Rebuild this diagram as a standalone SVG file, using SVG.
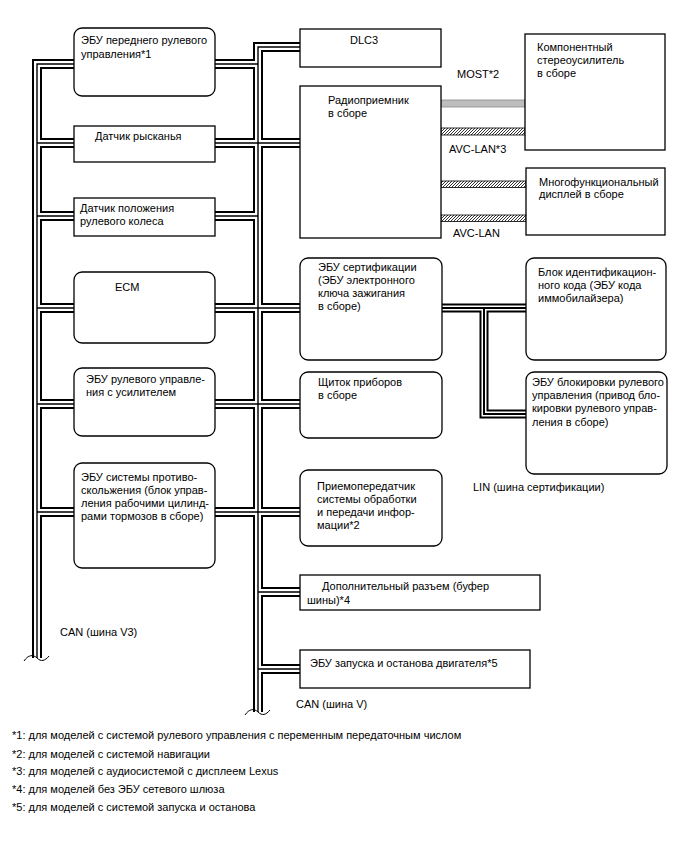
<svg xmlns="http://www.w3.org/2000/svg" width="688" height="852" viewBox="0 0 688 852">
<style>
text{font-family:"Liberation Sans",Arial,sans-serif;font-size:11px;fill:#000}
.fn{font-size:11px}
.box{fill:#fff;stroke:#000;stroke-width:1.3}
.bo{fill:none;stroke:#000;stroke-width:10;stroke-linejoin:miter}
.bw{fill:none;stroke:#fff;stroke-width:6;stroke-linejoin:miter}
.bc{fill:none;stroke:#000;stroke-width:1.4;stroke-linejoin:miter}
.lo{fill:none;stroke:#000;stroke-width:9}
.lw{fill:none;stroke:#fff;stroke-width:5}
.lc{fill:none;stroke:#000;stroke-width:2}
.wave{fill:none;stroke:#000;stroke-width:1}
</style>
<defs>
<path id="can" d="M37,658 V64 H74 M37,143 H74 M37,216 H74 M37,308 H74 M37,404 H74 M37,512 H74 M215,64 H258 V47 H300 M258,47 V712 M215,143 H300 M215,216 H258 M215,308 H300 M215,404 H300 M215,512 H300 M258,592 H300 M258,669 H300"/>
<path id="lin" d="M442,308 H526 M484,308 V414 H526"/>
<pattern id="hatch" patternUnits="userSpaceOnUse" width="3" height="3">
<path d="M-1,1 L1,-1 M0,3 L3,0 M2,4 L4,2" stroke="#000" stroke-width="0.8"/>
</pattern>
</defs>
<rect x="0" y="0" width="688" height="852" fill="#fff"/>

<g id="connectors">
<use href="#can" class="bo"/>
<use href="#can" class="bw"/>
<use href="#can" class="bc"/>
<use href="#lin" class="lo"/>
<use href="#lin" class="lw"/>
<use href="#lin" class="lc"/>
<path class="wave" d="M24,661 C28,655 33,654 37,658 C41,662 45,661 49,656"/>
<path class="wave" d="M245,715 C249,709 254,708 258,712 C262,716 266,715 270,710"/>
<rect x="441" y="100" width="84" height="7" fill="#bdbdbd" stroke="#8a8a8a" stroke-width="0.8"/>
<rect x="441" y="128" width="84" height="7" fill="url(#hatch)" stroke="#000" stroke-width="0.8"/>
<rect x="441" y="181" width="85" height="6.5" fill="url(#hatch)" stroke="#000" stroke-width="0.8"/>
<rect x="441" y="215" width="85" height="6.5" fill="url(#hatch)" stroke="#000" stroke-width="0.8"/>
<text x="457" y="78">MOST*2</text>
<text x="449" y="153">AVC-LAN*3</text>
<text x="453" y="237">AVC-LAN</text>
<text x="473" y="491">LIN (шина сертификации)</text>
<text x="60" y="636">CAN (шина V3)</text>
<text x="296" y="708">CAN (шина V)</text>
</g>

<g id="n-ecu-front-steer"><rect class="box" x="74" y="28" width="141" height="68" rx="8"/><text x="81" y="44">ЭБУ переднего рулевого</text><text x="81" y="58">управления*1</text></g>
<g id="n-yaw"><rect class="box" x="74" y="126" width="141" height="36"/><text x="95" y="140">Датчик рысканья</text></g>
<g id="n-steer-angle"><rect class="box" x="74" y="198" width="141" height="38"/><text x="80" y="212">Датчик положения</text><text x="80" y="225">рулевого колеса</text></g>
<g id="n-ecm"><rect class="box" x="74" y="272" width="141" height="71" rx="8"/><text x="115" y="291">ECM</text></g>
<g id="n-eps"><rect class="box" x="74" y="368" width="141" height="68" rx="8"/><text x="86" y="383">ЭБУ рулевого управле-</text><text x="86" y="396">ния с усилителем</text></g>
<g id="n-skid"><rect class="box" x="74" y="463" width="141" height="105" rx="8"/><text x="81" y="481">ЭБУ системы противо-</text><text x="81" y="494">скольжения (блок управ-</text><text x="81" y="507">ления рабочими цилинд-</text><text x="81" y="520">рами тормозов в сборе)</text></g>

<g id="n-dlc3"><rect class="box" x="300" y="29" width="141" height="38"/><text x="350" y="44">DLC3</text></g>
<g id="n-radio"><rect class="box" x="300" y="86" width="141" height="152"/><text x="328" y="104">Радиоприемник</text><text x="328" y="117">в сборе</text></g>
<g id="n-cert"><rect class="box" x="300" y="258" width="142" height="102" rx="8"/><text x="318" y="271">ЭБУ сертификации</text><text x="318" y="284">(ЭБУ электронного</text><text x="318" y="297">ключа зажигания</text><text x="318" y="310">в сборе)</text></g>
<g id="n-meter"><rect class="box" x="300" y="372" width="142" height="66" rx="8"/><text x="318" y="386">Щиток приборов</text><text x="318" y="399">в сборе</text></g>
<g id="n-transceiver"><rect class="box" x="300" y="470" width="142" height="76" rx="8"/><text x="317" y="490">Приемопередатчик</text><text x="317" y="503">системы обработки</text><text x="317" y="516">и передачи инфор-</text><text x="317" y="529">мации*2</text></g>
<g id="n-junction"><rect class="box" x="300" y="575" width="240" height="35"/><text x="322" y="590">Дополнительный разъем (буфер</text><text x="307" y="604">шины)*4</text></g>
<g id="n-stopstart"><rect class="box" x="300" y="650" width="230" height="38"/><text x="310" y="667">ЭБУ запуска и останова двигателя*5</text></g>

<g id="n-amp"><rect class="box" x="525" y="34" width="140" height="116"/><text x="537" y="51">Компонентный</text><text x="537" y="64">стереоусилитель</text><text x="537" y="77">в сборе</text></g>
<g id="n-display"><rect class="box" x="526" y="168" width="139" height="67"/><text x="539" y="186">Многофункциональный</text><text x="539" y="198">дисплей в сборе</text></g>
<g id="n-immo"><rect class="box" x="526" y="258" width="140" height="102" rx="8"/><text x="538" y="276">Блок идентификацион-</text><text x="538" y="289">ного кода (ЭБУ кода</text><text x="538" y="302">иммобилайзера)</text></g>
<g id="n-lock"><rect class="box" x="526" y="372" width="141" height="102" rx="8"/><text x="532" y="386">ЭБУ блокировки рулевого</text><text x="532" y="399">управления (привод бло-</text><text x="532" y="412">кировки рулевого управ-</text><text x="532" y="426">ления в сборе)</text></g>

<g id="footnotes">
<text class="fn" x="12" y="739">*1: для моделей с системой рулевого управления с переменным передаточным числом</text>
<text class="fn" x="12" y="758">*2: для моделей с системой навигации</text>
<text class="fn" x="12" y="775">*3: для моделей с аудиосистемой с дисплеем Lexus</text>
<text class="fn" x="12" y="793">*4: для моделей без ЭБУ сетевого шлюза</text>
<text class="fn" x="12" y="811">*5: для моделей с системой запуска и останова</text>
</g>
</svg>
